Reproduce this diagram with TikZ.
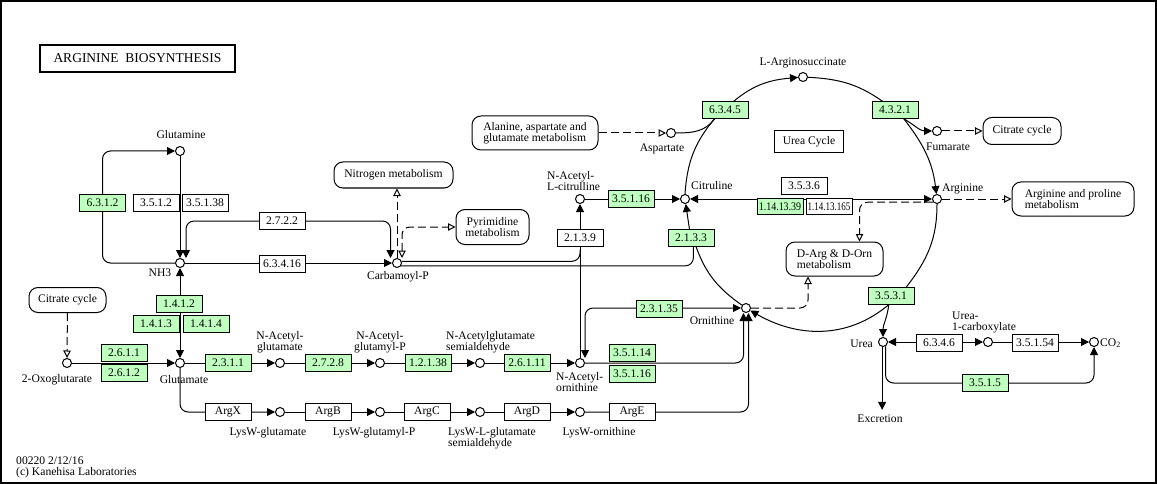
\documentclass[tikz,border=0pt]{standalone}
\usepackage{fontspec}
\setmainfont{Liberation Serif}
\usepackage{graphicx}
\usetikzlibrary{arrows.meta}
\pgfdeclarelayer{bg}
\pgfsetlayers{bg,main}
\definecolor{kgreen}{RGB}{191,255,191}
\newcommand\keggfont{\fontsize{11.6pt}{11pt}\selectfont}
\begin{document}
\begin{tikzpicture}[x=1pt,y=1pt,
  every node/.style={font=\keggfont,inner sep=0pt},
  cpd/.style={circle,draw,line width=1pt,fill=white,minimum size=9pt},
  enz/.style={rectangle,draw,line width=1pt,fill=white,minimum width=46pt,minimum height=16.5pt},
  genz/.style={enz,fill=kgreen},
  mlink/.style={rectangle,draw,line width=1pt,rounded corners=9pt,fill=white,align=left},
  lbl/.style={align=center},
  lbll/.style={align=left,anchor=west},
  conn/.style={line width=1pt},
  fwd/.style={conn,-{Triangle[length=8pt,width=8pt]}},
  bidir/.style={conn,{Triangle[length=8pt,width=8pt]}-{Triangle[length=8pt,width=8pt]}},
  rc/.style={rounded corners=8pt},
  dsh/.style={conn,dash pattern=on 8pt off 4pt},
  lnk/.style={dsh,-{Triangle[open,length=7.5pt,width=7.5pt]}},
  lnkb/.style={dsh,{Triangle[open,length=7.5pt,width=7.5pt]}-{Triangle[open,length=7.5pt,width=7.5pt]}},
]
\useasboundingbox (0,0) rectangle (1157,-484);
\draw[line width=2pt] (1,-1) rectangle (1156,-483);

% title
\node[draw,line width=2pt,minimum width=195pt,minimum height=27pt,font=\fontsize{13.5pt}{14pt}\selectfont] (title) at (137.5,-58.5) {ARGININE\ \ BIOSYNTHESIS};
\node[draw,line width=1pt,minimum width=69pt,minimum height=22pt] (ucyc) at (809,-142) {Urea Cycle};

% compounds
\node[cpd] (gln) at (180,-151) {};
\node[cpd] (nh3) at (180,-263) {};
\node[cpd] (carb) at (397,-263) {};
\node[cpd] (oxo) at (67,-363) {};
\node[cpd] (glu) at (180,-363) {};
\node[cpd] (nag) at (280,-363) {};
\node[cpd] (nagp) at (380,-363) {};
\node[cpd] (nagsa) at (480,-363) {};
\node[cpd] (naorn) at (580,-363) {};
\node[cpd] (orn) at (746,-308) {};
\node[cpd] (nacit) at (580,-199) {};
\node[cpd] (citr) at (685,-199) {};
\node[cpd] (asp) at (671,-133) {};
\node[cpd] (argsuc) at (803,-77) {};
\node[cpd] (fum) at (937,-131) {};
\node[cpd] (arg) at (937,-199) {};
\node[cpd] (urea) at (883,-342) {};
\node[cpd] (ucarb) at (988,-342) {};
\node[cpd] (co2) at (1094,-342) {};
\node[cpd] (lwglu) at (280,-412) {};
\node[cpd] (lwglup) at (380,-412) {};
\node[cpd] (lwgsa) at (480,-412) {};
\node[cpd] (lworn) at (580,-412) {};
\coordinate (j2139) at (580,-250);

% compound labels
\node[lbl] (l-gln) at (181,-135) {Glutamine};
\node[lbl] (l-nh3) at (160,-273) {NH3};
\node[lbl] (l-carb) at (398,-277) {Carbamoyl-P};
\node[lbl] (l-oxo) at (57,-380) {2-Oxoglutarate};
\node[lbl] (l-glu) at (184,-380) {Glutamate};
\node[lbl] (l-nag) at (280,-342) {N-Acetyl-\\glutamate};
\node[lbl] (l-nagp) at (380,-342) {N-Acetyl-\\glutamyl-P};
\node[lbll] (l-nagsa) at (446,-342) {N-Acetylglutamate\\semialdehyde};
\node[lbll] (l-naorn) at (556,-382) {N-Acetyl-\\ornithine};
\node[lbl] (l-orn) at (712,-321) {Ornithine};
\node[lbll] (l-nacit) at (547,-181.5) {N-Acetyl-\\L-citrulline};
\node[lbll] (l-citr) at (691,-186) {Citruline};
\node[lbl] (l-asp) at (662,-149) {Aspartate};
\node[lbl] (l-argsuc) at (803,-63) {L-Arginosuccinate};
\node[lbl] (l-fum) at (948,-147) {Fumarate};
\node[lbll] (l-arg) at (942,-189) {Arginine};
\node[anchor=east] (l-urea) at (873,-344) {Urea};
\node[lbll] (l-ucarb) at (952,-322) {Urea-\\1-carboxylate};
\node[anchor=west] (l-co2) at (1100,-343) {CO\raisebox{-1.5pt}{\fontsize{8pt}{8pt}\selectfont 2}};
\node[lbl] (excr) at (880,-419) {Excretion};
\node[lbl] (l-lwglu) at (268,-433) {LysW-glutamate};
\node[lbl] (l-lwglup) at (374,-433) {LysW-glutamyl-P};
\node[lbll] (l-lwgsa) at (448,-438) {LysW-L-glutamate\\semialdehyde};
\node[lbl] (l-lworn) at (599,-433) {LysW-ornithine};
\node[lbll] (l-ver) at (16,-467.5) {00220 2/12/16\\(c) Kanehisa Laboratories};

% enzymes
\node[genz] (e6312) at (102.5,-203) {6.3.1.2};
\node[enz] (e3512) at (156,-203) {3.5.1.2};
\node[enz] (e35138) at (205,-203) {3.5.1.38};
\node[enz] (e2722) at (282,-221) {2.7.2.2};
\node[enz] (e63416) at (282,-264) {6.3.4.16};
\node[genz] (e1412) at (179,-304) {1.4.1.2};
\node[genz] (e1413) at (156,-324) {1.4.1.3};
\node[genz] (e1414) at (206,-324) {1.4.1.4};
\node[genz] (e2611) at (124,-353) {2.6.1.1};
\node[genz] (e2612) at (124,-373) {2.6.1.2};
\node[genz] (e2311) at (228,-363) {2.3.1.1};
\node[genz] (e2728) at (328,-363) {2.7.2.8};
\node[genz] (e12138) at (428,-363) {1.2.1.38};
\node[genz] (e26111) at (527,-363) {2.6.1.11};
\node[enz] (argx) at (228,-412) {ArgX};
\node[enz] (argb) at (328,-412) {ArgB};
\node[enz] (argc) at (427,-412) {ArgC};
\node[enz] (argd) at (527,-412) {ArgD};
\node[enz] (arge) at (632,-412) {ArgE};
\node[genz] (e35114) at (632,-353) {3.5.1.14};
\node[genz] (e35116b) at (632,-374) {3.5.1.16};
\node[genz] (e23135) at (659,-309) {2.3.1.35};
\node[enz] (e2139) at (580,-238) {2.1.3.9};
\node[genz] (e2133) at (691,-238) {2.1.3.3};
\node[genz] (e35116) at (631,-199) {3.5.1.16};
\node[genz] (e6345) at (725,-110) {6.3.4.5};
\node[genz] (e4321) at (895,-110) {4.3.2.1};
\node[enz] (e3536) at (804,-186) {3.5.3.6};
\node[genz] (e1141339) at (780,-206.5) {\scalebox{0.86}[1]{1.14.13.39}};
\node[enz] (e11413165) at (829,-206.5) {\scalebox{0.78}[1]{1.14.13.165}};
\node[genz] (e3531) at (891,-296) {3.5.3.1};
\node[enz] (e6346) at (939,-343) {6.3.4.6};
\node[enz] (e35154) at (1035,-343) {3.5.1.54};
\node[genz] (e3515) at (985,-383) {3.5.1.5};

% map links
\node[mlink,minimum width=119pt,minimum height=26pt] (nitro) at (393.5,-175) {Nitrogen metabolism};
\node[mlink,align=center,minimum width=73pt,minimum height=35pt] (pyr) at (492.5,-227) {Pyrimidine\\metabolism};
\node[mlink,minimum width=126pt,minimum height=34pt] (ala) at (535,-133) {Alanine, aspartate and\\glutamate metabolism};
\node[mlink,minimum width=77pt,minimum height=25pt] (cit1) at (67.5,-300) {Citrate cycle};
\node[mlink,minimum width=78pt,minimum height=27pt] (cit2) at (1022,-131) {Citrate cycle};
\node[mlink,minimum width=122pt,minimum height=34pt] (argpro) at (1073,-199) {Arginine and proline\\metabolism};
\node[mlink,minimum width=97pt,minimum height=34pt] (darg) at (834.5,-259) {D-Arg \& D-Orn\\metabolism};

\begin{pgfonlayer}{bg}
% glutamine / NH3 / carbamoyl-P
\draw[fwd,rc] (nh3) -| (e6312.center) |- (gln);
\draw[fwd] (gln) -- (nh3.north);
\draw[bidir,rc] ([xshift=6pt]nh3.north) |- (e2722.center) -| ([xshift=-6.5pt]carb.north);
\draw[fwd] (nh3) -- (carb);
\draw[bidir] (glu) -- (nh3);
\draw[lnk] (carb.north) -- (carb.north |- nitro.south);
\draw[lnkb,rc] ([xshift=5pt]carb.north) |- (pyr);
\draw[lnk] (cit1) -- (oxo);
% main chain
\draw[fwd] (oxo) -- (glu);
\draw[fwd] (glu) -- (nag);
\draw[fwd] (nag) -- (nagp);
\draw[fwd] (nagp) -- (nagsa);
\draw[fwd] (nagsa) -- (naorn);
\draw[fwd,rc] (glu) |- (lwglu);
\draw[fwd] (lwglu) -- (lwglup);
\draw[fwd] (lwglup) -- (lwgsa);
\draw[fwd] (lwgsa) -- (lworn);
\draw[fwd,rc] (lworn) -| ([xshift=2.5pt]orn.south);
\draw[fwd,rc] (naorn) -| ([xshift=-2.5pt]orn.south);
\draw[bidir,rc] (orn) -| ([xshift=5pt]naorn.north);
% 2.1.3.9 / 2.1.3.3
\draw[fwd] (naorn) -- (nacit);
\draw[conn,rc] (carb.20) -| (j2139);
\draw[conn,rc] (carb.-35) -| (e2133.-75);
\draw[fwd] (nacit) -- (citr);
\draw[fwd] (e2133.100) -- (citr);
% urea cycle arcs
\draw[conn] (citr.north) to[out=86,in=230] (e6345.220);
\draw[conn] (asp) to[out=0,in=235] (e6345.220);
\draw[fwd] (e6345.45) to[out=40,in=185] (argsuc);
\draw[conn] (argsuc) to[out=-3,in=145] (e4321.145);
\draw[fwd] (e4321.-45) to[out=-52,in=97] (arg);
\draw[fwd] (e4321.-45) to[out=-30,in=180] (fum);
\draw[conn] (arg) to[out=-90,in=52] (e3531.30);
\draw[fwd] (e3531.-105) to[out=-140,in=-30] (orn);
\draw[fwd] (e3531.-105) to[out=-95,in=90] (urea);
\draw[conn] (orn) to[out=145,in=-70] (e2133.-60);
\draw[bidir] (citr) -- (arg);
% links
\draw[lnk] (ala) -- (asp);
\draw[lnk] (fum) -- (cit2);
\draw[lnk] (arg) -- (argpro);
\draw[lnk,rc] (arg.-140) -| ([xshift=25pt]darg.north);
\draw[lnk,rc] (orn) -| ([xshift=-26.5pt]darg.south);
% urea
\draw[bidir] (urea) -- (ucarb);
\draw[fwd] (ucarb) -- (co2);
\draw[fwd,rc] (urea.-60) |- (e3515.center) -| (co2);
\draw[fwd] (urea.-100) -- ([yshift=5pt]urea.-100 |- excr.north);
\end{pgfonlayer}
\end{tikzpicture}
\end{document}
